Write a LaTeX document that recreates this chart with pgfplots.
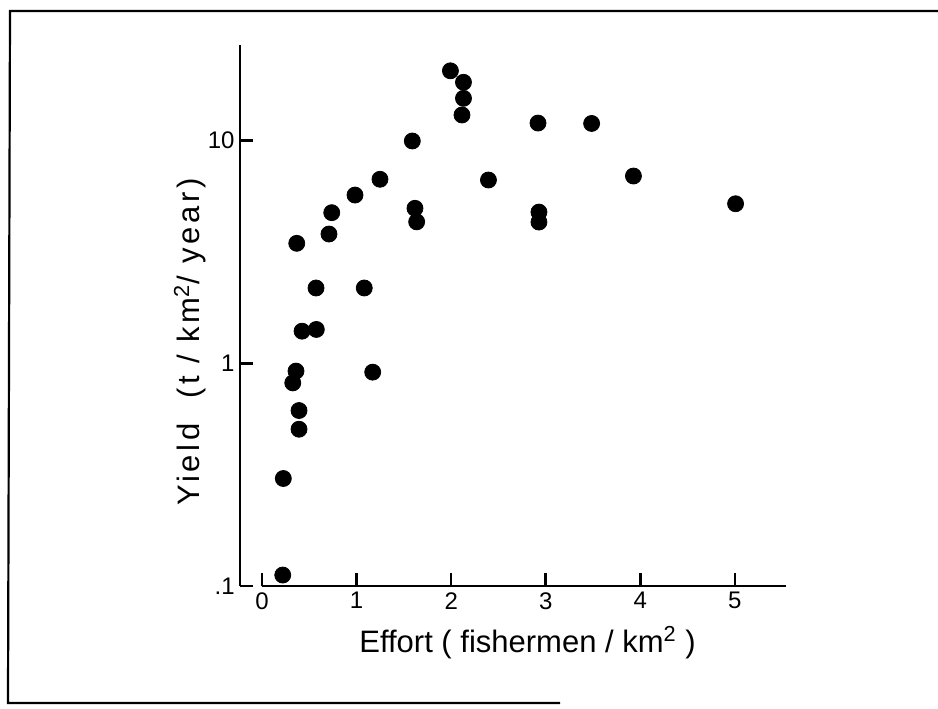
\documentclass[border=0pt]{standalone}
\usepackage{fontspec}
\setmainfont{Liberation Sans}
\usepackage{pgfplots}
\pgfplotsset{compat=1.18}
\begin{document}
\begin{tikzpicture}
\begin{axis}[
  scale only axis, width=273pt, height=270.5pt,
  ymode=log, xmin=-0.233, xmax=5.54, ymin=0.1, ymax=26.9,
  separate axis lines, axis x line*=bottom, axis y line*=left,
  x axis line style={draw=none}, y axis line style={line width=1.3pt},
  tick align=inside, major tick length=6.5pt,
  tick style={line width=1.3pt, black},
  xtick={0,1,2,3,4,5}, ytick={0.1,1,10}, yticklabels={.1,1,10},
  yminorticks=false,
  /pgf/number format/assume math mode=true,
  ticklabel style={font=\fontsize{12}{14}\selectfont},
  xticklabel style={anchor=north, inner sep=0pt, yshift=-3pt},
  yticklabel style={anchor=east, inner sep=0pt, xshift=-2.5pt},
  xlabel={Effort ( fishermen / km\textsuperscript{2} )},
  ylabel={\addfontfeature{LetterSpace=12}Yield \ (t / km\textsuperscript{2}/ year)},
  xlabel style={at={(axis description cs:0.5266,-0.105)}, anchor=center, font=\fontsize{15.5}{18}\selectfont},
  ylabel style={at={(axis description cs:-0.0916,0.451)}, anchor=center, font=\fontsize{15.5}{18}\selectfont},
  clip=false,
]
\addplot[only marks, mark=*, mark size=4pt, mark options={fill=black, draw=black, line width=0.4pt}] coordinates {
  (0.219,0.112) (0.225,0.304) (0.325,0.817) (0.359,0.923) (0.391,0.614)
  (0.391,0.506) (0.367,3.46) (0.423,1.395) (0.574,1.42) (0.571,2.18)
  (0.708,3.81) (0.737,4.75) (0.983,5.70) (1.081,2.18) (1.170,0.913)
  (1.247,6.71) (1.589,9.97) (1.617,4.97) (1.635,4.32) (1.992,20.6)
  (2.130,18.3) (2.130,15.5) (2.114,13.05) (2.394,6.66) (2.918,12.0)
  (2.928,4.78) (2.928,4.31) (3.485,11.95) (3.927,6.94) (5.007,5.21)
};
\draw[line width=1.3pt] (axis cs:0,0.1) -- (axis cs:5.54,0.1);
\coordinate (o) at (rel axis cs:0,0);
\end{axis}
\draw[line width=1.1pt] ([shift={(349pt,287.5pt)}]o) -- ([shift={(-115pt,287.5pt)}]o)
  -- ([shift={(-116pt,-58.5pt)}]o) -- ([shift={(160pt,-58.5pt)}]o);
\pgfresetboundingbox
\useasboundingbox ([shift={(-120pt,-61pt)}]o) rectangle ([shift={(349pt,293pt)}]o);
\end{tikzpicture}
\end{document}
